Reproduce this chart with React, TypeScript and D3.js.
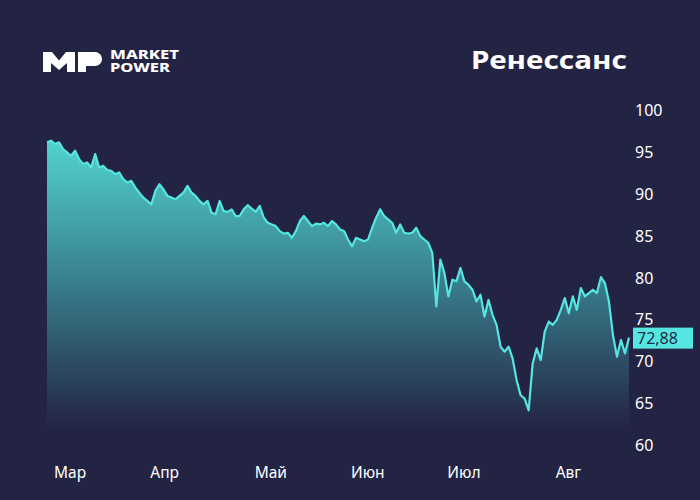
import React from "react";
import * as d3 from "d3";

const prices: number[] = [
  96.2, 96.4, 96.0, 96.2, 95.4, 95.0, 94.6, 95.2, 94.2, 93.6,
  93.8, 93.2, 94.8, 93.2, 93.4, 92.9, 92.8, 92.4, 92.6, 91.8,
  91.4, 91.6, 90.8, 90.2, 89.6, 89.2, 88.8, 90.4, 91.2, 90.6,
  89.8, 89.6, 89.4, 89.8, 90.2, 91.0, 90.2, 89.8, 89.2, 88.8,
  89.2, 87.8, 87.6, 89.2, 88.0, 87.9, 88.2, 87.4, 87.4, 88.2,
  88.7, 88.3, 87.9, 88.6, 87.2, 86.6, 86.4, 86.2, 85.6, 85.3,
  85.4, 84.8, 85.6, 86.8, 87.4, 86.8, 86.2, 86.5, 86.4, 86.6,
  86.2, 86.8, 86.4, 85.8, 85.6, 84.6, 83.8, 84.8, 84.6, 84.4,
  84.6, 86.0, 87.2, 88.2, 87.4, 87.0, 86.6, 85.4, 86.4, 85.4,
  85.3, 85.4, 86.0, 85.0, 84.6, 84.2, 83.0, 76.6, 82.2, 80.6,
  77.8, 79.8, 79.6, 81.2, 79.6, 79.2, 78.6, 77.2, 78.0, 75.4,
  77.4, 75.6, 74.4, 71.8, 71.2, 71.8, 70.4, 67.8, 66.0, 65.6,
  64.2, 69.8, 71.6, 70.2, 73.6, 74.8, 74.4, 75.0, 76.2, 77.6,
  75.8, 77.8, 76.2, 78.8, 77.8, 78.2, 78.6, 78.2, 80.1, 79.4,
  77.2, 73.2, 70.6, 72.6, 71.0, 72.88,
];

const monthLabels: string[] = ["Мар", "Апр", "Май", "Июн", "Июл", "Авг"];
const monthStartIndex: number[] = [0, 24, 50, 74, 98, 125];
const yTicks: number[] = [100, 95, 90, 85, 80, 75, 70, 65, 60];
const lastLabel = "72,88";
const title = "Ренессанс";

const W = 700;
const H = 500;
const BG = "#232343";
const CYAN = "#55e6e2";
const FONT = "'Noto Sans', 'DejaVu Sans', sans-serif";

export default function App() {
  const x = d3.scaleLinear().domain([0, prices.length - 1]).range([47, 629]);
  const y = d3.scaleLinear().domain([60, 100]).range([445.5, 110.5]);
  const bottom = 430;

  const line = d3
    .line<number>()
    .x((_, i) => x(i))
    .y((d) => y(d));
  const area = d3
    .area<number>()
    .x((_, i) => x(i))
    .y0(bottom)
    .y1((d) => y(d));

  const last = prices[prices.length - 1];

  return (
    <svg
      width={W}
      height={H}
      style={{ position: "absolute", left: 0, top: 0, display: "block" }}
    >
      <defs>
        <linearGradient id="fillGrad" gradientUnits="userSpaceOnUse" x1="0" y1="140" x2="0" y2={bottom}>
          <stop offset="0" stopColor="#52d3cf" />
          <stop offset="0.45" stopColor="#3a8592" />
          <stop offset="1" stopColor={BG} />
        </linearGradient>
      </defs>
      <rect x={0} y={0} width={W} height={H} fill={BG} />

      {/* Logo */}
      <g fill="#ffffff">
        <path d="M43,72 L43,52 L52,52 L59,60.5 L66,52 L75,52 L75,72 L67,72 L67,63 L59,70 L51,63 L51,72 Z" />
        <path d="M78,72 L78,52 L95,52 A7,7 0 0 1 95,66 L86,66 L86,72 Z" />
        <text x={110} y={58.5} fontFamily={FONT} fontWeight={800} fontSize={11.5} textLength={69} lengthAdjust="spacingAndGlyphs">
          MARKET
        </text>
        <text x={110} y={72} fontFamily={FONT} fontWeight={800} fontSize={11.5} textLength={60} lengthAdjust="spacingAndGlyphs">
          POWER
        </text>
      </g>

      <text
        x={627}
        y={69}
        textAnchor="end"
        fill="#ffffff"
        fontFamily={FONT}
        fontWeight={700}
        fontSize={25}
        textLength={156}
        lengthAdjust="spacingAndGlyphs"
      >
        {title}
      </text>

      {/* Area & line */}
      <path d={area(prices) ?? ""} fill="url(#fillGrad)" />
      <path d={line(prices) ?? ""} fill="none" stroke={CYAN} strokeWidth={2.2} strokeLinejoin="round" />

      {/* Y axis labels */}
      {yTicks.map((t) => (
        <text
          key={t}
          x={635}
          y={y(t)}
          dy="0.35em"
          fill="#ffffff"
          fontFamily={FONT}
          fontSize={16}
        >
          {t}
        </text>
      ))}

      {/* last value label */}
      <rect x={633} y={y(last) - 10} width={60} height={21} fill={CYAN} />
      <text
        x={637}
        y={y(last) + 0.5}
        dy="0.35em"
        fill="#1f2b45"
        fontFamily={FONT}
        fontSize={16}
      >
        {lastLabel}
      </text>

      {/* X axis labels */}
      {monthLabels.map((m, i) => (
        <text
          key={m}
          x={x(monthStartIndex[i]) + 7}
          y={478}
          fill="#ffffff"
          fontFamily={FONT}
          fontSize={15.5}
        >
          {m}
        </text>
      ))}
    </svg>
  );
}
